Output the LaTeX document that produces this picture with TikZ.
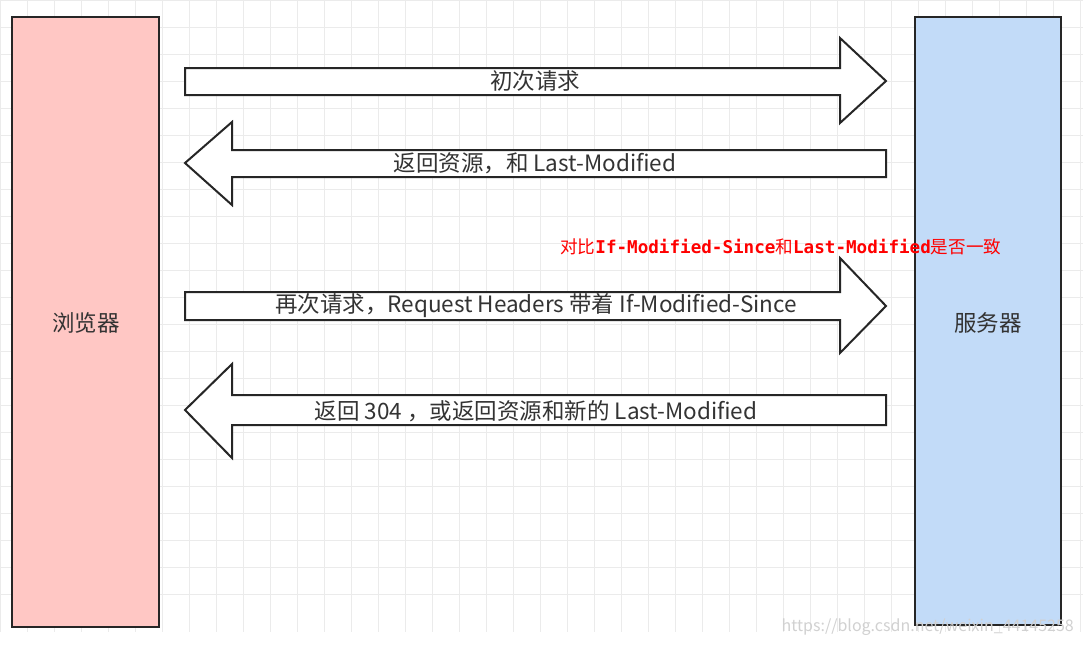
\documentclass[tikz,border=0pt]{standalone}
\usepackage{fontspec}
\setmainfont{Noto Sans CJK SC}
\newfontfamily\monob{DejaVu Sans Mono}
\begin{document}
\begin{tikzpicture}[x=1pt,y=-1pt,
  box/.style={draw=black!85,line width=2.2pt},
  arr/.style={draw=black!85,line width=2pt,fill=white,line join=miter},
  lbl/.style={font=\fontsize{22.5}{24}\selectfont,text=black!80,anchor=center}]
\useasboundingbox (0,0) rectangle (1083,645);
\fill[white] (0,0) rectangle (1083,645);
\foreach \i in {0,27,...,1080} \draw[black!8,line width=0.8pt] (\i,0) -- (\i,632);
\foreach \j in {0,27,...,620} \draw[black!8,line width=0.8pt] (0,\j) -- (1083,\j);
\draw[box,fill={rgb,255:red,255;green,199;blue,196}] (12,17) rectangle (159,627);
\draw[box,fill={rgb,255:red,194;green,219;blue,248}] (915,17) rectangle (1061,625);
\node[lbl] (b) at (86,323) {浏览器};
\node[lbl] (s) at (988,323) {服务器};
\draw[arr] (185,68) -- (840,68) -- (840,38) -- (886,81) -- (840,123) -- (840,95) -- (185,95) -- cycle;
\node[lbl] (t1) at (535,81) {初次请求};
\draw[arr] (886,150) -- (232,150) -- (232,122) -- (185,163) -- (232,205) -- (232,177) -- (886,177) -- cycle;
\node[lbl] (t2) at (535,163) {返回资源，和 Last-Modified};
\draw[arr] (185,292) -- (840,292) -- (840,258) -- (886,306) -- (840,353) -- (840,320) -- (185,320) -- cycle;
\node[lbl] (t3) at (536,306) {再次请求，Request Headers 带着 If-Modified-Since};
\draw[arr] (886,395) -- (232,395) -- (232,364) -- (185,410) -- (232,458) -- (232,425) -- (886,425) -- cycle;
\node[lbl] (t4) at (536,411) {返回 304 ，或返回资源和新的 Last-Modified};
\node[anchor=west,text=red,inner sep=0,font=\fontsize{17.6}{19}\selectfont] (r) at (560,247)
 {对比{\monob\bfseries If-Modified-Since}和{\monob\bfseries Last-Modified}是否一致};
\node[anchor=east,text=black!18,inner sep=0,font=\fontsize{16}{18}\selectfont] (w) at (1074,627) {https://blog.csdn.net/weixin\_44145258};
\end{tikzpicture}
\end{document}
